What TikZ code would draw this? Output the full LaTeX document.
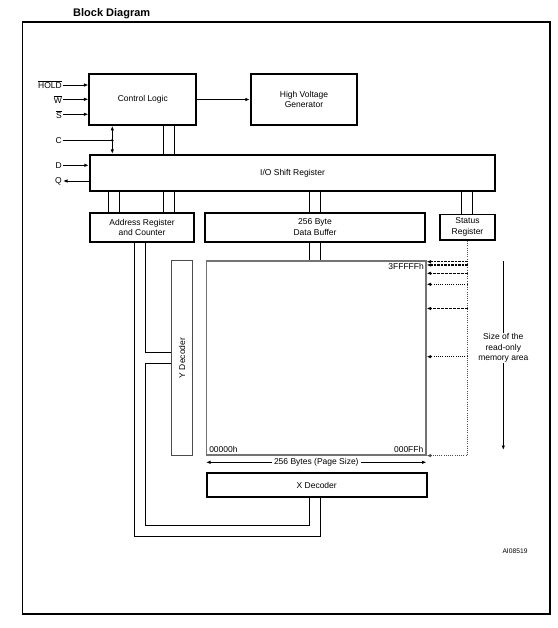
\documentclass[tikz,border=0pt]{standalone}
\usepackage{graphicx}
\usepackage{fontspec}
\setmainfont{Liberation Sans}
\usetikzlibrary{arrows.meta,positioning,calc}
\newcommand{\ovl}[1]{$\overline{\hbox{#1}}$}

\begin{document}
\begin{tikzpicture}[x=1pt, y=-1pt,
  font=\fontsize{8.5}{10.5}\selectfont,
  box/.style={draw, line width=1.7pt, inner sep=1pt, align=center},
  grid/.style={draw, inner sep=0pt},
  wire/.style={line width=0.9pt},
  sig/.style={anchor=east, inner sep=1pt},
  roA/.style={line width=1.4pt, dash pattern=on 2.5pt off 1pt},
  roB/.style={line width=1.1pt, dash pattern=on 2.5pt off 1.5pt},
  roC/.style={line width=1pt, dash pattern=on 1pt off 1.2pt},
  >={Latex[length=4.5pt,width=3.5pt]}]
  \useasboundingbox (0,0) rectangle (557,628);
  \node[anchor=west, inner sep=0pt, font=\fontsize{11}{13}\selectfont\bfseries] (title) at (73,14) {Block Diagram};
  \draw[line width=1.3pt] (22.5,22) rectangle (550,614);
  % blocks
  \node[box, minimum width=107pt, minimum height=51pt] (ctrl) at (142.8,99.5) {Control Logic};
  \node[box, minimum width=106.6pt, minimum height=51pt] (hvg) at (304,99.5) {High Voltage\\Generator};
  \node[box, minimum width=405.6pt, minimum height=36.3pt] (io) at (292.5,172.9) {I/O Shift Register};
  \node[box, minimum width=104.6pt, minimum height=29.3pt] (addr) at (142,227.3) {Address Register\\and Counter};
  \node[box, minimum width=220.6pt, minimum height=29.3pt] (buf) at (315,227.3) {256 Byte\\Data Buffer};
  \node[box, minimum width=55.6pt, minimum height=25.7pt, font=\fontsize{8.5}{11.4}\selectfont] (status) at (467.5,227.2) {Status\\Register};
  \node[grid, draw=black!70, line width=1.4pt, minimum width=20.6pt, minimum height=194.6pt] (ydec) at (182,358) {\rotatebox{90}{Y Decoder}};
  \node[grid, draw=black!55, line width=1.2pt, minimum width=219.3pt, minimum height=194pt] (mem) at (316.3,358) {};
  \node[box, minimum width=220pt, minimum height=23.4pt] (xdec) at (316.7,485) {X Decoder};
  \node[anchor=north east, inner sep=2.5pt] (top) at (mem.north east) {3FFFFFh};
  \node[anchor=south west, inner sep=3pt] (first) at (mem.south west) {00000h};
  \node[anchor=south east, inner sep=3pt] (last) at (mem.south east) {000FFh};
  % input signals
  \node[sig] (hold) at (63,85) {\ovl{HOLD}};
  \node[sig] (w) at (63,99.3) {\ovl{W}};
  \node[sig] (s) at (63,114.3) {\ovl{S}};
  \node[sig] (c) at (63,140.3) {C};
  \node[sig] (d) at (63,165.3) {D};
  \node[sig] (q) at (63,181) {Q};
  \coordinate (cjoin) at (112.3,140.3);
  \draw[wire, ->] (hold) -- (ctrl.west |- hold);
  \draw[wire, ->] (w) -- (ctrl.west |- w);
  \draw[wire, ->] (s) -- (ctrl.west |- s);
  \draw[wire] (c) -- (cjoin);
  \fill (cjoin) circle (1.4pt);
  \draw[wire, <->] (cjoin |- ctrl.south) -- (cjoin |- io.north);
  \draw[wire, ->] (d) -- (io.west |- d);
  \draw[wire, ->] (io.west |- q) -- (q);
  \draw[wire, ->] (ctrl) -- (hvg);
  % buses
  \foreach \x in {163.7,174.3}
    \draw[wire] (\x,0 |- ctrl.south) -- (\x,0 |- io.north);
  \foreach \x in {108.7,119.3,163.7,174.3}
    \draw[wire] (\x,0 |- io.south) -- (\x,0 |- addr.north);
  \foreach \x in {309.7,320.3} {
    \draw[wire] (\x,0 |- io.south) -- (\x,0 |- buf.north);
    \draw[wire] (\x,0 |- buf.south) -- (\x,0 |- mem.north);
  }
  \foreach \x in {461.7,472.3}
    \draw[wire] (\x,0 |- io.south) -- (\x,0 |- status.north);
  \draw[wire] (134.3,0 |- addr.south) -- (134.3,536) -| (320.3,0 |- xdec.south);
  \draw[wire] (145.7,0 |- addr.south) |- (ydec.west |- 0,352.7);
  \draw[wire] (ydec.west |- 0,363.3) -| (145.7,525.3) -| (309.7,0 |- xdec.south);
  % read-only area
  \draw[roC, draw=black!70, ->] (status.south) |- (mem.south east);
  \foreach \y in {261.7,265}
    \draw[roA, ->] (status.south |- 0,\y) -- (mem.east |- 0,\y);
  \foreach \y in {273.3,308.5}
    \draw[roB, ->] (status.south |- 0,\y) -- (mem.east |- 0,\y);
  \foreach \y in {284.3,356.7}
    \draw[roC, ->] (status.south |- 0,\y) -- (mem.east |- 0,\y);
  \coordinate (rotop) at (503.3,261);
  \coordinate (robot) at (503.3,450);
  \draw[wire, ->] (rotop) -- (robot) node[pos=0.46, fill=white, inner sep=1pt, align=center, font=\fontsize{8.5}{10.3}\selectfont] (rosize) {Size of the\\read-only\\memory area};
  \draw[wire, <->] (mem.south west |- 0,462.3) -- (mem.south east |- 0,462.3) node[midway, fill=white, inner sep=2pt] (page) {256 Bytes (Page Size)};
  \node[font=\fontsize{6.7}{8}\selectfont] (ref) at (515,550.7) {AI08519};
\end{tikzpicture}
\end{document}
